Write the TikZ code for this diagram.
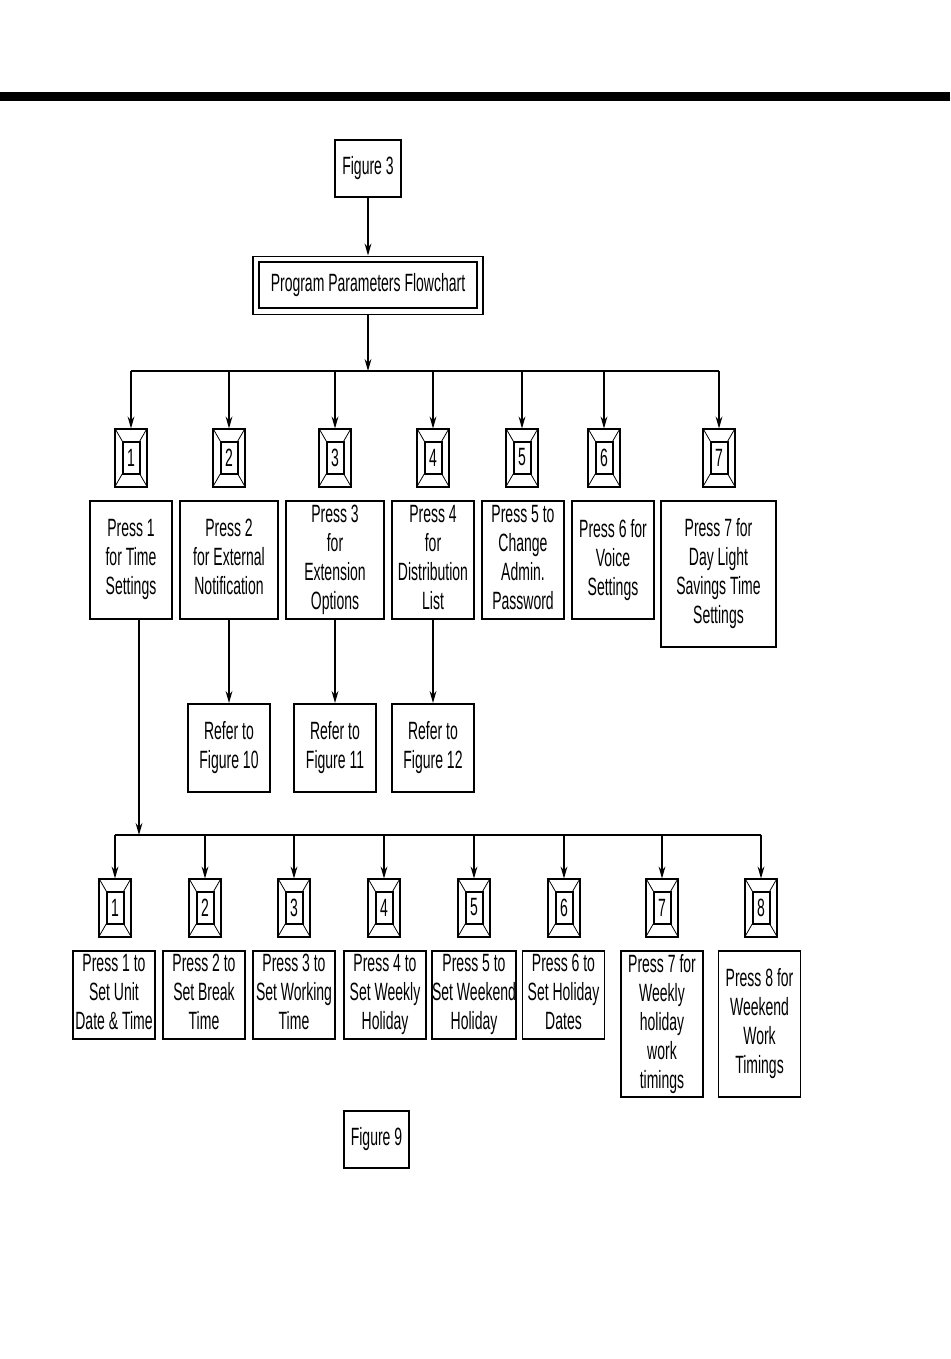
\documentclass[tikz,border=0pt]{standalone}
\usepackage{fontspec}
\setmainfont[FakeStretch=0.56]{Liberation Sans}
\usetikzlibrary{arrows.meta, fit}

\tikzset{
  key/.pic={
    \node[draw, line width=1pt, minimum width=16pt, minimum height=29pt, inner sep=0pt, outer sep=0pt] (-out) {};
    \node[draw, line width=1pt, minimum width=8.5pt, minimum height=16pt, inner sep=0pt, outer sep=0pt] (-in) {#1};
    \draw[line width=0.4pt] (-out.north west)--(-in.north west) (-out.north east)--(-in.north east)
      (-out.south west)--(-in.south west) (-out.south east)--(-in.south east);
  }}

\begin{document}
\begin{tikzpicture}[x=0.5pt, y=-0.5pt,
  font=\fontsize{12.5}{14.5}\selectfont,
  b/.style={rectangle, draw, line width=0.8pt, align=center, inner sep=0pt,
            anchor=north, minimum width=41pt, minimum height=44pt,
            execute at begin node=\rule{0pt}{8.6pt}, execute at end node=\rule[-2.7pt]{0pt}{2.7pt}},
  ar/.style={-{Stealth[length=6pt, width=3.4pt, inset=2pt]}, line width=0.7pt},
  bus/.style={line width=1.4pt}]
\useasboundingbox (0,0) rectangle (950,1359);
\fill (0,92) rectangle (950,101);
% top of the chart
\node[b, minimum width=33pt, minimum height=28.5pt] (fig3) at (368,139) {Figure 3};
\node[b, minimum width=109pt, minimum height=23pt, line width=1.2pt] (ppf) at (368,261) {Program Parameters Flowchart};
\node[draw, line width=0.7pt, fit=(ppf), inner sep=2.4pt] (ppfo) {};
\coordinate (bus1) at (368,371);
% first level keys and boxes
\pic (k1) at (131,457.5) {key=1};
\pic (k2) at (229,457.5) {key=2};
\pic (k3) at (335,457.5) {key=3};
\pic (k4) at (433,457.5) {key=4};
\pic (k5) at (522,457.5) {key=5};
\pic (k6) at (604,457.5) {key=6};
\pic (k7) at (719,457.5) {key=7};
\node[b, minimum height=59pt] (p1) at (131,500) {Press 1\\for Time\\Settings};
\node[b, minimum width=49pt, minimum height=59pt] (p2) at (229,500) {Press 2\\for External\\Notification};
\node[b, minimum width=49pt, minimum height=59pt] (p3) at (335,500) {Press 3\\for\\Extension\\Options};
\node[b, minimum height=59pt] (p4) at (433,500) {Press 4\\for\\Distribution\\List};
\node[b, minimum height=59pt] (p5) at (523,500) {Press 5 to\\Change\\Admin.\\Password};
\node[b, minimum height=59pt] (p6) at (613,500) {Press 6 for\\Voice\\Settings};
\node[b, minimum width=57.5pt, minimum height=73pt] (p7) at (718.5,500) {Press 7 for\\Day Light\\Savings Time\\Settings};
\node[b] (r2) at (229,703) {Refer to\\Figure 10};
\node[b] (r3) at (335,703) {Refer to\\Figure 11};
\node[b] (r4) at (433,703) {Refer to\\Figure 12};
% time settings level
\coordinate (bus2) at (139,835);
\pic (l1) at (115,907.5) {key=1};
\pic (l2) at (205,907.5) {key=2};
\pic (l3) at (294,907.5) {key=3};
\pic (l4) at (384,907.5) {key=4};
\pic (l5) at (474,907.5) {key=5};
\pic (l6) at (564,907.5) {key=6};
\pic (l7) at (662,907.5) {key=7};
\pic (l8) at (761,907.5) {key=8};
\node[b] (q1) at (114,950) {Press 1 to\\Set Unit\\Date \& Time};
\node[b] (q2) at (204,950) {Press 2 to\\Set Break\\Time};
\node[b] (q3) at (294,950) {Press 3 to\\Set Working\\Time};
\node[b] (q4) at (385,950) {Press 4 to\\Set Weekly\\Holiday};
\node[b] (q5) at (474,950) {Press 5 to\\Set Weekend\\Holiday};
\node[b] (q6) at (563.5,950) {Press 6 to\\Set Holiday\\Dates};
\node[b, minimum height=73pt] (q7) at (662,950) {Press 7 for\\Weekly\\holiday\\work\\timings};
\node[b, minimum height=73pt] (q8) at (759.5,950) {Press 8 for\\Weekend\\Work\\Timings};
\node[b, minimum width=32.5pt, minimum height=28.5pt] (fig9) at (376.5,1110) {Figure 9};
% connectors
\draw[ar](fig3)--(ppfo);\draw[ar](ppfo)--(bus1);
\draw[bus](bus1 -| k1-out)--(bus1 -| k7-out);
\draw[ar](bus1 -| k1-out)--(k1-out);\draw[ar](bus1 -| k2-out)--(k2-out);\draw[ar](bus1 -| k3-out)--(k3-out);
\draw[ar](bus1 -| k4-out)--(k4-out);\draw[ar](bus1 -| k5-out)--(k5-out);\draw[ar](bus1 -| k6-out)--(k6-out);
\draw[ar](bus1 -| k7-out)--(k7-out);
\draw[ar](p2)--(r2);\draw[ar](p3)--(r3);\draw[ar](p4)--(r4);
\draw[ar](p1.south -| bus2)--(bus2);
\draw[line width=1pt](bus2 -| l1-out)--(bus2 -| l8-out);
\draw[ar](bus2 -| l1-out)--(l1-out);\draw[ar](bus2 -| l2-out)--(l2-out);\draw[ar](bus2 -| l3-out)--(l3-out);
\draw[ar](bus2 -| l4-out)--(l4-out);\draw[ar](bus2 -| l5-out)--(l5-out);\draw[ar](bus2 -| l6-out)--(l6-out);
\draw[ar](bus2 -| l7-out)--(l7-out);\draw[ar](bus2 -| l8-out)--(l8-out);
\end{tikzpicture}
\end{document}
